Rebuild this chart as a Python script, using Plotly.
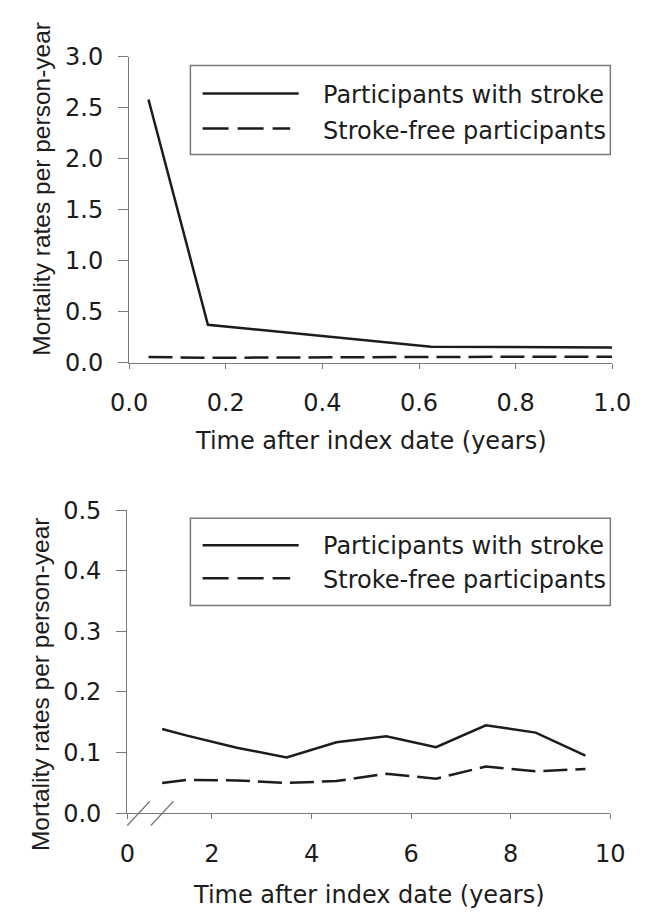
import plotly.graph_objects as go

# First year after the index date (years) and mortality rates per person-year
year1_time = [0.04, 0.163, 0.625, 1.0]
year1_stroke = [2.58, 0.37, 0.156, 0.148]
year1_free = [0.054, 0.047, 0.055, 0.058]

# Long-term follow-up (years) and mortality rates per person-year
long_time = [1.0, 1.5, 2.5, 3.5, 4.5, 5.5, 6.5, 7.5, 8.5, 9.5]
long_stroke = [0.139, 0.128, 0.108, 0.092, 0.117, 0.127, 0.109, 0.145, 0.133, 0.095]
long_free = [0.050, 0.055, 0.054, 0.050, 0.053, 0.065, 0.057, 0.077, 0.069, 0.073]

series_names = ["Participants with stroke", "Stroke-free participants"]
y_title = "Mortality rates per person-year"
x_title = "Time after index date (years)"

top_yticks = [0.0, 0.5, 1.0, 1.5, 2.0, 2.5, 3.0]
top_xticks = [0.0, 0.2, 0.4, 0.6, 0.8, 1.0]
bottom_yticks = [0.0, 0.1, 0.2, 0.3, 0.4, 0.5]
bottom_xticks = [2, 4, 6, 8, 10]
bottom_axis_start = 0.3  # start of the broken x axis, labelled "0"

W, H = 651, 919
FONT = "DejaVu Sans, Verdana, sans-serif"
TITLE_FONT = "Liberation Sans, Arial, Helvetica, sans-serif"
FS = 24
INK = "#1c1c1c"
AXIS = "#7a7a7a"
DASH = "24px,8px"


def px(x):
    return x / W


def py(y):
    return 1 - y / H


fig = go.Figure()

# data traces
fig.add_trace(go.Scatter(x=year1_time, y=year1_stroke, mode="lines",
                         line=dict(color=INK, width=2.5), xaxis="x", yaxis="y",
                         name=series_names[0], showlegend=False))
fig.add_trace(go.Scatter(x=year1_time, y=year1_free, mode="lines",
                         line=dict(color=INK, width=2.5, dash=DASH), xaxis="x", yaxis="y",
                         name=series_names[1], showlegend=False))
fig.add_trace(go.Scatter(x=long_time, y=long_stroke, mode="lines",
                         line=dict(color=INK, width=2.5), xaxis="x2", yaxis="y2",
                         name=series_names[0], showlegend=False))
fig.add_trace(go.Scatter(x=long_time, y=long_free, mode="lines",
                         line=dict(color=INK, width=2.5, dash=DASH), xaxis="x2", yaxis="y2",
                         name=series_names[1], showlegend=False))

common_axis = dict(showline=True, linecolor=AXIS, linewidth=1.3, showgrid=False,
                   zeroline=False, ticks="outside", tickcolor=AXIS, tickwidth=1.2,
                   tickfont=dict(family=FONT, size=FS, color=INK))

fig.update_layout(
    width=W, height=H,
    margin=dict(l=0, r=0, t=0, b=0),
    paper_bgcolor="white", plot_bgcolor="white",
    showlegend=False,
    xaxis=dict(common_axis, domain=[px(117), px(630)], range=[0, 1],
               tickvals=top_xticks, ticktext=[f"{v:.1f}" for v in top_xticks],
               ticklen=5, ticklabelstandoff=14, anchor="y"),
    yaxis=dict(common_axis, domain=[py(359.5), py(44)], range=[0, 3],
               tickvals=top_yticks, ticktext=[f"{v:.1f}" for v in top_yticks],
               ticklen=10, ticklabelstandoff=10, anchor="x"),
    xaxis2=dict(common_axis, domain=[px(115), px(628)], range=[bottom_axis_start, 10],
                tickvals=[bottom_axis_start] + bottom_xticks,
                ticktext=["0"] + [str(v) for v in bottom_xticks],
                ticklen=5, ticklabelstandoff=14, anchor="y2"),
    yaxis2=dict(common_axis, domain=[py(824.3), py(511.8)], range=[0, 0.5],
                tickvals=bottom_yticks, ticktext=[f"{v:.1f}" for v in bottom_yticks],
                ticklen=10, ticklabelstandoff=10, anchor="x2"),
)

annotations = []
shapes = []

# axis titles
for cy in (180, 691):
    annotations.append(dict(text=y_title, x=px(23.5), y=py(cy), xref="paper", yref="paper",
                            textangle=-90, showarrow=False, xanchor="center", yanchor="middle",
                            font=dict(family=TITLE_FONT, size=24.5, color=INK)))
for cx, cy in ((374, 440), (372, 909)):
    annotations.append(dict(text=x_title, x=px(cx), y=py(cy), xref="paper", yref="paper",
                            showarrow=False, xanchor="center", yanchor="middle",
                            font=dict(family=FONT, size=FS, color=INK)))

# legend boxes with line samples
legends = [
    dict(top=53, bottom=145, rows=(82, 118), text_rows=(84, 121)),
    dict(top=520, bottom=610, rows=(548, 582), text_rows=(549, 584)),
]
for lg in legends:
    shapes.append(dict(type="rect", xref="paper", yref="paper",
                       x0=px(182), x1=px(628), y0=py(lg["bottom"]), y1=py(lg["top"]),
                       line=dict(color=AXIS, width=1.5), fillcolor="white"))
    r1, r2 = lg["rows"]
    shapes.append(dict(type="line", xref="paper", yref="paper",
                       x0=px(195), x1=px(297), y0=py(r1), y1=py(r1),
                       line=dict(color=INK, width=2.5)))
    shapes.append(dict(type="line", xref="paper", yref="paper",
                       x0=px(195), x1=px(288), y0=py(r2), y1=py(r2),
                       line=dict(color=INK, width=2.5, dash="26px,9px")))
    for name, ry in zip(series_names, lg["text_rows"]):
        annotations.append(dict(text=name, x=px(321), y=py(ry), xref="paper", yref="paper",
                                showarrow=False, xanchor="left", yanchor="middle",
                                font=dict(family=FONT, size=FS, color=INK)))

# axis-break marks on the lower x axis
for x0 in (115, 140):
    shapes.append(dict(type="line", xref="paper", yref="paper",
                       x0=px(x0), x1=px(x0 + 24), y0=py(837), y1=py(812),
                       line=dict(color=AXIS, width=1.3)))

fig.update_layout(annotations=annotations, shapes=shapes)

fig.write_html("out.html")
